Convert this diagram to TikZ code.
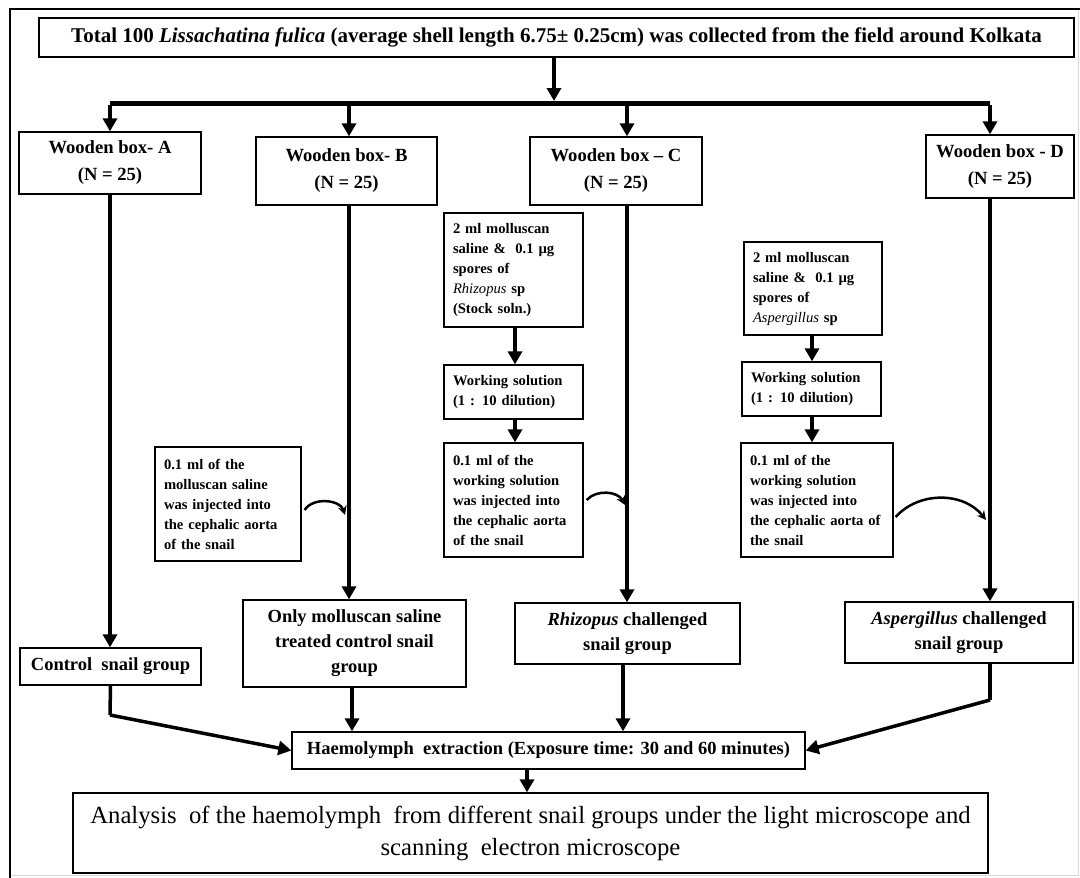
\documentclass[tikz,border=0pt]{standalone}
\usepackage{fontspec}
\setmainfont{Liberation Serif}
\usetikzlibrary{arrows.meta}

\begin{document}
\begin{tikzpicture}[x=1pt, y=-1pt,
    box/.style={draw, line width=1.3pt, inner sep=0pt, align=center},
    title/.style={box, font=\bfseries\fontsize{21}{24}\selectfont},
    woodbox/.style={box, font=\bfseries\fontsize{18.6}{27}\selectfont},
    note/.style={box, font=\bfseries\fontsize{14.6}{20}\selectfont, align=left, inner xsep=9pt},
    group/.style={box, font=\bfseries\fontsize{18.5}{25}\selectfont},
    flow/.style={line width=3.5pt, -{Triangle[length=13pt,width=14pt]}},
    bus/.style={line width=5pt},
    inject/.style={line width=2.5pt, -{Stealth[length=9pt,width=9pt]}},
  ]
  \useasboundingbox (0,0) rectangle (1080,878);

  % Frame
  \draw[black!15, line width=0.8pt] (1078,9) -- (1078,875) -- (10,875);
  \draw[line width=2.5pt] (10,878) -- (10,9) -- (1080,9);

  % Top
  \node[title, minimum width=1035pt, minimum height=39pt] (total) at (556.5,37.5)
    {Total 100 \textit{Lissachatina fulica} (average shell length 6.75± 0.25cm) was collected from the field around Kolkata};

  % Wooden boxes
  \node[woodbox, minimum width=182pt, minimum height=62pt] (boxA) at (110,163) {Wooden box- A\\(N = 25)};
  \node[woodbox, minimum width=181pt, minimum height=68pt] (boxB) at (346.5,171) {Wooden box- B\\(N = 25)};
  \node[woodbox, minimum width=172pt, minimum height=68pt] (boxC) at (616,171) {Wooden box -- C\\(N = 25)};
  \node[woodbox, minimum width=148pt, minimum height=63pt] (boxD) at (1000,166.5) {Wooden box - D\\(N = 25)};

  % Bus
  \coordinate (busA) at (110,103);
  \coordinate (busB) at (349,103);
  \coordinate (busC) at (627,103);
  \coordinate (busD) at (990,103);
  \draw[flow] (total.south -| 554,0) -- (554,101);
  \draw[bus] (busA) -- (busD);
  \foreach \b in {A,B,C,D}
    \draw[flow] ([yshift=-2pt]bus\b) -- (bus\b |- box\b.north);

  % Rhizopus column
  \node[note, text width=121pt, minimum height=114pt] (stockC) at (513.5,270)
    {2 ml molluscan\\saline \&\ \ 0.1 µg\\spores of\\{\mdseries\itshape Rhizopus} sp\\(Stock soln.)};
  \node[note, text width=121pt, minimum height=54pt] (workC) at (513.5,392)
    {Working solution\\(1 : 10 dilution)};
  \node[note, text width=121pt, minimum height=114pt] (injC) at (513.5,500)
    {0.1 ml of the\\working solution\\was injected into\\the cephalic aorta\\of the snail};
  \draw[flow] (stockC.south -| 515,0) -- (workC.north -| 515,0);
  \draw[flow] (workC.south -| 515,0) -- (injC.north -| 515,0);

  % Aspergillus column
  \node[note, text width=120pt, minimum height=93pt] (stockD) at (813,288.5)
    {2 ml molluscan\\saline \&\ \ 0.1 µg\\spores of\\{\mdseries\itshape Aspergillus} sp};
  \node[note, text width=121pt, minimum height=54pt] (workD) at (811.5,389)
    {Working solution\\(1 : 10 dilution)};
  \node[note, text width=134pt, minimum height=114pt] (injD) at (817,500)
    {0.1 ml of the\\working solution\\was injected into\\the cephalic aorta of\\the snail};
  \draw[flow] (stockD.south -| 812,0) -- (workD.north -| 812,0);
  \draw[flow] (workD.south -| 812,0) -- (injD.north -| 812,0);

  % Saline injection
  \node[note, text width=128pt, minimum height=114pt] (injB) at (228,504)
    {0.1 ml of the\\molluscan saline\\was injected into\\the cephalic aorta\\of the snail};

  % Groups
  \node[group, minimum width=181pt, minimum height=37pt] (ctrl) at (110.5,666.5) {Control\ \ snail group};
  \node[group, minimum width=223pt, minimum height=87pt] (saline) at (354.5,643.5)
    {Only molluscan saline\\treated control snail\\group};
  \node[group, minimum width=225pt, minimum height=61pt] (rhizo) at (627.5,633.5)
    {\textit{Rhizopus} challenged\\snail group};
  \node[group, minimum width=228pt, minimum height=61pt] (asper) at (959,632.5)
    {\textit{Aspergillus} challenged\\snail group};

  % Long drops
  \draw[flow] (boxA.south -| busA) -- (ctrl.north -| busA);
  \draw[flow] (boxB.south -| busB) -- (saline.north -| busB);
  \draw[flow] (boxC.south -| busC) -- (rhizo.north -| busC);
  \draw[flow] (boxD.south -| busD) -- (asper.north -| busD);

  % Injection arrows
  \coordinate (hitB) at (345,515);
  \coordinate (hitC) at (625,505);
  \coordinate (hitD) at (986,520);
  \draw[inject] ([xshift=3pt,yshift=-6pt]injB.east) to[bend left=65] (hitB);
  \draw[inject] ([xshift=3pt]injC.east) to[bend left=55] (hitC);
  \draw[inject] ([xshift=2pt,yshift=-17pt]injD.east) to[bend left=50] (hitD);

  % Bottom
  \node[group, minimum width=513pt, minimum height=37pt] (haem) at (548.5,750.5)
    {Haemolymph\ \ extraction (Exposure time: 30 and 60 minutes)};
  \node[box, font=\fontsize{24.7}{32}\selectfont, minimum width=915pt, minimum height=80pt] (analysis) at (530.5,833)
    {Analysis\ \ of the haemolymph\ \ from different snail groups under the light microscope and\\scanning\ \ electron microscope};

  \draw[line width=3.5pt] (ctrl.south) -- (110,715) coordinate (kinkA);
  \draw[flow] (kinkA) -- (haem.west);
  \draw[flow] (saline.south -| 352,0) -- (haem.north -| 352,0);
  \draw[flow] (rhizo.south -| 623,0) -- (haem.north -| 623,0);
  \draw[line width=3.5pt] (asper.south -| busD) -- (990,700) coordinate (kinkD);
  \draw[flow] (kinkD) -- (haem.east);
  \draw[flow] (haem.south -| 527,0) -- (analysis.north -| 527,0);

\end{tikzpicture}
\end{document}
